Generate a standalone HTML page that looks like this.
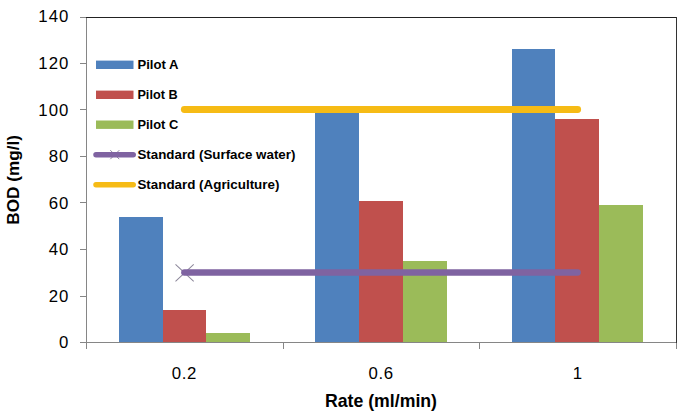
<!DOCTYPE html>
<html><head><meta charset="utf-8"><style>
html,body{margin:0;padding:0;background:#fff;}
body{width:685px;height:413px;overflow:hidden;}
svg{display:block;font-family:"Liberation Sans",sans-serif;}
.ax text{font-size:16.8px;fill:#000;}
.lg{font-size:13.7px;font-weight:bold;fill:#000;}
.tt{font-size:17.7px;font-weight:bold;fill:#000;}
</style></head><body>
<svg width="685" height="413" viewBox="0 0 685 413">
<rect width="685" height="413" fill="#fff"/>
<g shape-rendering="crispEdges">
<rect x="119" y="217" width="44" height="125" fill="#4F81BD"/>
<rect x="163" y="310" width="43" height="32" fill="#C0504D"/>
<rect x="206" y="333" width="44" height="9" fill="#9BBB59"/>
<rect x="315" y="111" width="44" height="231" fill="#4F81BD"/>
<rect x="359" y="201" width="44" height="141" fill="#C0504D"/>
<rect x="403" y="261" width="44" height="81" fill="#9BBB59"/>
<rect x="512" y="49" width="43" height="293" fill="#4F81BD"/>
<rect x="555" y="119" width="44" height="223" fill="#C0504D"/>
<rect x="599" y="205" width="44" height="137" fill="#9BBB59"/>
</g>
<path d="M175.5 264.4L193.7 281.4M175.5 281.4L193.7 264.4" stroke="#8D889B" stroke-width="1.05" fill="none"/>
<line x1="184.3" y1="109.5" x2="577.7" y2="109.5" stroke="#F6BB15" stroke-width="6.8" stroke-linecap="round"/>
<line x1="184.3" y1="272.5" x2="577.7" y2="272.5" stroke="#7F63A1" stroke-width="6.3" stroke-linecap="round"/>

<g shape-rendering="crispEdges">
<rect x="86" y="17" width="1" height="325.5" fill="#868686"/>
<rect x="86" y="342" width="590" height="1" fill="#868686"/>
<rect x="80" y="17" width="6" height="1" fill="#868686"/>
<rect x="80" y="63" width="6" height="1" fill="#868686"/>
<rect x="80" y="109" width="6" height="1" fill="#868686"/>
<rect x="80" y="156" width="6" height="1" fill="#868686"/>
<rect x="80" y="202" width="6" height="1" fill="#868686"/>
<rect x="80" y="249" width="6" height="1" fill="#868686"/>
<rect x="80" y="296" width="6" height="1" fill="#868686"/>
<rect x="80" y="342" width="6" height="1" fill="#868686"/>
<rect x="86" y="342" width="1" height="7" fill="#868686"/>
<rect x="283" y="342" width="1" height="7" fill="#868686"/>
<rect x="479" y="342" width="1" height="7" fill="#868686"/>
<rect x="676" y="342" width="1" height="7" fill="#868686"/>
<rect x="86" y="17" width="591" height="1" fill="#222"/>
<rect x="676" y="17" width="1" height="326" fill="#333"/>
</g>
<g class="ax">
<text x="69.3" y="22.2" text-anchor="end" letter-spacing="1">140</text>
<text x="69.3" y="68.8" text-anchor="end" letter-spacing="1">120</text>
<text x="69.3" y="116.0" text-anchor="end" letter-spacing="1">100</text>
<text x="69.3" y="162.0" text-anchor="end" letter-spacing="1">80</text>
<text x="69.3" y="208.6" text-anchor="end" letter-spacing="1">60</text>
<text x="69.3" y="255.2" text-anchor="end" letter-spacing="1">40</text>
<text x="69.3" y="302.3" text-anchor="end" letter-spacing="1">20</text>
<text x="69.3" y="348.0" text-anchor="end" letter-spacing="1">0</text>
<text x="184.4" y="379.2" text-anchor="middle" letter-spacing="0.7">0.2</text>
<text x="381.1" y="379.2" text-anchor="middle" letter-spacing="0.7">0.6</text>
<text x="577.8" y="379.2" text-anchor="middle" letter-spacing="0.7">1</text>
</g>
<rect x="96" y="60.6" width="37.5" height="8.4" fill="#4F81BD"/>
<text x="137.4" y="69" class="lg" textLength="41.0" lengthAdjust="spacingAndGlyphs">Pilot A</text>
<rect x="96" y="90.6" width="37.5" height="8.4" fill="#C0504D"/>
<text x="137.4" y="99" class="lg" textLength="40.2" lengthAdjust="spacingAndGlyphs">Pilot B</text>
<rect x="96" y="120.5" width="37.5" height="8.4" fill="#9BBB59"/>
<text x="137.4" y="129" class="lg" textLength="40.8" lengthAdjust="spacingAndGlyphs">Pilot C</text>
<path d="M110.3 150.2L119.3 159.2M110.3 159.2L119.3 150.2" stroke="#8A7F9C" stroke-width="1" fill="none"/>
<line x1="96" y1="154.7" x2="133.2" y2="154.7" stroke="#7F63A1" stroke-width="5.5" stroke-linecap="round"/>
<text x="137.4" y="159" class="lg" textLength="158.0" lengthAdjust="spacingAndGlyphs">Standard (Surface water)</text>
<line x1="96" y1="184.7" x2="133.2" y2="184.7" stroke="#F6BB15" stroke-width="5.5" stroke-linecap="round"/>
<text x="137.4" y="189" class="lg" textLength="142.0" lengthAdjust="spacingAndGlyphs">Standard (Agriculture)</text>
<text class="tt" x="381" y="406.8" text-anchor="middle">Rate (ml/min)</text>
<text class="tt" transform="translate(19.0 179.9) rotate(-90)" text-anchor="middle" style="font-size:17.2px">BOD (mg/l)</text>
</svg>
</body></html>
